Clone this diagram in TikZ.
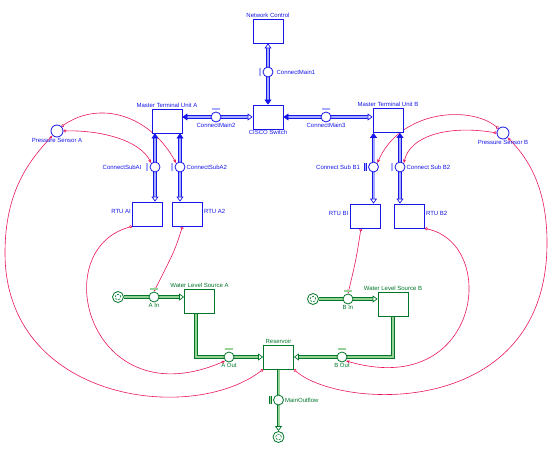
\documentclass[tikz,border=0pt]{standalone}
\usepackage{fontspec}
\setmainfont{Liberation Sans}
\usetikzlibrary{arrows.meta,positioning}
\definecolor{sfBlue}{RGB}{22,22,232}
\definecolor{sfBlueBg}{RGB}{165,172,255}
\definecolor{sfGreen}{RGB}{0,118,40}
\definecolor{sfGreenBg}{RGB}{150,210,150}
\definecolor{sfRed}{RGB}{234,22,92}
\pgfdeclarelayer{back}
\pgfsetlayers{back,main}
\tikzset{
  hollowtip/.tip={Triangle[open,fill=white,length=5pt,width=7pt,line width=0.7pt]},
  solidtip/.tip={Triangle[length=5pt,width=7pt]}
}

\begin{document}
\begin{tikzpicture}[
  x=1pt,y=-1pt,
  font=\fontsize{6}{7}\selectfont,
  stock/.style={draw=sfBlue,line width=0.8pt,fill=white,minimum width=30pt,minimum height=24pt,inner sep=0pt,label distance=3.5pt},
  gstock/.style={stock,draw=sfGreen},
  valve/.style={circle,draw=sfBlue,line width=0.8pt,fill=white,minimum size=10pt,inner sep=0pt,label distance=4.5pt},
  gvalve/.style={valve,draw=sfGreen},
  sensor/.style={valve,minimum size=12pt},
  cloud/.style={circle,draw=sfGreen,line width=0.8pt,fill=white,minimum size=11pt,inner sep=0pt,
    path picture={\draw[sfGreen,line width=0.6pt,dash pattern=on 2pt off 1.3pt] (path picture bounding box.center) circle (2.8pt);}},
  lbl/.style={text=sfBlue,inner sep=1pt},
  glbl/.style={text=sfGreen,inner sep=1pt},
  bpipe/.style={draw=sfBlue,double=sfBlueBg,double distance=2pt,line width=0.8pt},
  gpipe/.style={bpipe,draw=sfGreen,double=sfGreenBg},
  vbar/.style={bpipe,double distance=1.2pt,line width=0.6pt},
  gbar/.style={vbar,draw=sfGreen,double=sfGreenBg},
  link/.style={draw=sfRed,line width=0.6pt,{Circle[open,length=3pt]}-{Stealth[length=4pt,width=3pt]}}
]
\useasboundingbox (0,0) rectangle (552,452);

% stocks
\node[stock,label={[lbl]above:Network Control}] (netctrl) at (268,31) {};
\node[stock,label={[lbl]below:CISCO Switch}] (cisco) at (268,117) {};
\node[stock,label={[lbl]above:Master Terminal Unit A}] (mtuA) at (167,121) {};
\node[stock,label={[lbl]above:Master Terminal Unit B}] (mtuB) at (388,120.5) {};
\node[stock,label={[lbl,yshift=3pt]left:RTU AI}] (rtuA1) at (147.5,214) {};
\node[stock,label={[lbl,yshift=3pt]right:RTU A2}] (rtuA2) at (187.5,214) {};
\node[stock,label={[lbl,yshift=3pt]left:RTU BI}] (rtuB1) at (365,216) {};
\node[stock,label={[lbl,yshift=3pt]right:RTU B2}] (rtuB2) at (409.5,216) {};
\node[gstock,label={[glbl]above:Water Level Source A}] (wlsA) at (199.5,301) {};
\node[gstock,label={[glbl]above:Water Level Source B}] (wlsB) at (393,304) {};
\node[gstock,label={[glbl]above:Reservoir}] (reservoir) at (278.5,357) {};

% valves
\node[valve,label={[lbl,label distance=2pt]right:ConnectMain1}] (cm1) at (268,72) {};
\node[valve,label={[lbl]below:ConnectMain2}] (cm2) at (216,117) {};
\node[valve,label={[lbl]below:ConnectMain3}] (cm3) at (326,117) {};
\node[valve,label={[lbl,label distance=7pt]left:ConnectSubAI}] (csA1) at (155,167) {};
\node[valve,label={[lbl]right:ConnectSubA2}] (csA2) at (180,167) {};
\node[valve,label={[lbl,label distance=7pt]left:Connect Sub B1}] (csB1) at (373.5,167) {};
\node[valve,label={[lbl]right:Connect Sub B2}] (csB2) at (400,167) {};
\node[gvalve,label={[glbl]below:A In}] (aIn) at (154,297) {};
\node[gvalve,label={[glbl]below:A Out}] (aOut) at (229,357) {};
\node[gvalve,label={[glbl]below:B In}] (bIn) at (348,299) {};
\node[gvalve,label={[glbl]below:B Out}] (bOut) at (342,357) {};
\node[gvalve,label={[glbl]right:MainOutflow}] (mainOut) at (278.5,400) {};

\foreach \v in {cm2,cm3}
  \draw[vbar] ([xshift=-4pt,yshift=2.6pt]\v.north) -- ([xshift=4pt,yshift=2.6pt]\v.north);
\foreach \v in {cm1,csA1,csA2,csB1,csB2}
  \draw[vbar] ([xshift=-2.6pt,yshift=-4pt]\v.west) -- ([xshift=-2.6pt,yshift=4pt]\v.west);
\foreach \v in {aIn,aOut,bIn,bOut}
  \draw[gbar] ([xshift=-4pt,yshift=2.6pt]\v.north) -- ([xshift=4pt,yshift=2.6pt]\v.north);
\draw[gbar] ([xshift=-2.6pt,yshift=-4pt]mainOut.west) -- ([xshift=-2.6pt,yshift=4pt]mainOut.west);

% sensors and clouds
\node[sensor,label={[lbl]below:Pressure Sensor A}] (psA) at (57,131) {};
\node[sensor,label={[lbl]below:Pressure Sensor B}] (psB) at (503,133) {};
\node[cloud] (cloudA) at (118,297) {};
\node[cloud] (cloudB) at (313,299) {};
\node[cloud] (cloudOut) at (278.5,437) {};

\begin{pgfonlayer}{back}
% information links
\draw[link] (psA.north east) .. controls (100,100) and (150,115) .. (csA2.north west);
\draw[link] (psA.east) .. controls (100,130) and (140,140) .. (csA1.north west);
\draw[link] (reservoir.south west) .. controls (190,425) and (5,400) .. (5,253)
  .. controls (5,190) and (30,160) .. (psA.south west);
\draw[link] (rtuA1.south west) .. controls (45,250) and (90,420) .. (aOut.south west);
\draw[link] ([xshift=-5pt]rtuA2.south) .. controls (175,250) .. (aIn.north);
\draw[link] (psB.north west) .. controls (470,105) and (400,110) .. (csB1.north east);
\draw[link] (psB.west) .. controls (450,125) and (410,135) .. (csB2.north east);
\draw[link] (reservoir.south east) .. controls (340,410) and (547,420) .. (547,243)
  .. controls (547,190) and (530,160) .. (psB.south east);
\draw[link] (rtuB2.south east) .. controls (500,245) and (480,400) .. (bOut.south east);
\draw[link] ([xshift=-4pt]rtuB1.south) .. controls (356,260) .. (bIn.north);

% flows
\draw[bpipe,hollowtip-solidtip] (netctrl.south) -- (cisco.north);
\draw[bpipe,solidtip-hollowtip] (cm2 -| mtuA.east) -- (cm2 -| cisco.west);
\draw[bpipe,solidtip-hollowtip] (cm3 -| cisco.east) -- (cm3 -| mtuB.west);
\draw[bpipe,solidtip-hollowtip] (csA1 |- mtuA.south) -- (csA1 |- rtuA1.north);
\draw[bpipe,solidtip-hollowtip] (csA2 |- mtuA.south) -- (csA2 |- rtuA2.north);
\draw[bpipe,solidtip-hollowtip] (csB1 |- mtuB.south) -- (csB1 |- rtuB1.north);
\draw[bpipe,solidtip-hollowtip] (csB2 |- mtuB.south) -- (csB2 |- rtuB2.north);
\draw[gpipe,-hollowtip] (cloudA.east) -- (aIn -| wlsA.west);
\draw[gpipe,-hollowtip] ([xshift=-3.5pt]wlsA.south) |- (reservoir.west);
\draw[gpipe,-hollowtip] (cloudB.east) -- (bIn -| wlsB.west);
\draw[gpipe,-hollowtip] (wlsB.south) |- (reservoir.east);
\draw[gpipe,-hollowtip] (reservoir.south) -- (cloudOut.north);
\end{pgfonlayer}
\end{tikzpicture}
\end{document}
